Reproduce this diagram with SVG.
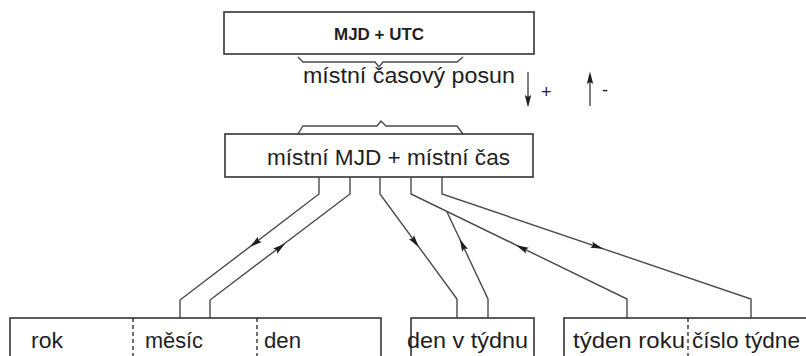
<svg xmlns="http://www.w3.org/2000/svg" xmlns:xlink="http://www.w3.org/1999/xlink" width="806" height="356" viewBox="0 0 806 356">
  <style>
    .box { fill: #ffffff; stroke: #333333; stroke-width: 1.6; }
    .div { stroke: #222222; stroke-width: 1.3; stroke-dasharray: 4 3; fill: none; }
    .wire { fill: none; stroke: #4a4a4a; stroke-width: 1.4; stroke-linejoin: miter; }
    .brace { fill: none; stroke: #4a4a4a; stroke-width: 1.4; }
    .lbl { font-family: "Liberation Sans", Arial, sans-serif; font-size: 22px; fill: #1e1e1e; }
    .bold { font-family: "Liberation Sans", Arial, sans-serif; font-size: 16px; font-weight: bold; fill: #1e1e1e; }
    .sign { font-family: "Liberation Sans", Arial, sans-serif; font-size: 18px; fill: #1e1e1e; }
    .head { fill: #1e1e1e; }
  </style>
  <defs>
    <!-- slender dart, pointing along +x, centred on the origin -->
    <path id="dart" class="head" d="M6.5,0 L-6,-3.2 L-4,0 L-6,3.2 Z"/>
  </defs>

  <!-- top: UTC time -->
  <g id="utc">
    <rect class="box" x="224" y="12" width="310" height="42"/>
    <text class="bold" x="379" y="40" text-anchor="middle" textLength="90" lengthAdjust="spacingAndGlyphs">MJD + UTC</text>
  </g>

  <!-- local time offset with its sign hints -->
  <g id="offset">
    <path class="brace" d="M298,57 L303,62 L375,62 L379,67 L383,62 L457,62 L463,57"/>
    <text class="lbl" x="303" y="83" textLength="212" lengthAdjust="spacingAndGlyphs">místní časový posun</text>
    <line class="wire" x1="528" y1="72" x2="528" y2="100"/>
    <use xlink:href="#dart" transform="translate(528,101) rotate(90)"/>
    <text class="sign" x="541" y="98">+</text>
    <line class="wire" x1="590" y1="106" x2="590" y2="79"/>
    <use xlink:href="#dart" transform="translate(590,78) rotate(-90)"/>
    <text class="sign" x="602" y="96">-</text>
    <path class="brace" d="M298,134 L303,126 L377,126 L381,121 L386,126 L457,126 L463,134"/>
  </g>

  <!-- local date and time -->
  <g id="local">
    <rect class="box" x="225" y="134" width="308" height="43"/>
    <text class="lbl" x="267" y="165" font-size="23" textLength="243" lengthAdjust="spacingAndGlyphs">místní MJD + místní čas</text>
  </g>

  <!-- conversion paths -->
  <g id="connectors">
    <path class="wire" d="M319,177 L319,194 L180,300 L180,318"/>
    <path class="wire" d="M350,177 L350,194 L210,300 L210,318"/>
    <path class="wire" d="M380,177 L380,194 L457,299 L457,318"/>
    <path class="wire" d="M447,212 L488,299 L488,318"/>
    <path class="wire" d="M411,177 L411,194 L627,299 L627,318"/>
    <path class="wire" d="M442,177 L442,194 L751,299 L751,318"/>
    <use xlink:href="#dart" transform="translate(255,243) rotate(142.7)"/>
    <use xlink:href="#dart" transform="translate(280,247.5) rotate(-37.1)"/>
    <use xlink:href="#dart" transform="translate(415,242) rotate(53.7)"/>
    <use xlink:href="#dart" transform="translate(462.5,245) rotate(-115.2)"/>
    <use xlink:href="#dart" transform="translate(522,248) rotate(-154.1)"/>
    <use xlink:href="#dart" transform="translate(597,246.7) rotate(18.8)"/>
  </g>

  <!-- year / month / day -->
  <g id="ymd">
    <rect class="box" x="10" y="318" width="371" height="60"/>
    <line class="div" x1="133" y1="318" x2="133" y2="356"/>
    <line class="div" x1="257" y1="318" x2="257" y2="356"/>
    <text class="lbl" x="31" y="348" textLength="32" lengthAdjust="spacingAndGlyphs">rok</text>
    <text class="lbl" x="145" y="348" textLength="58" lengthAdjust="spacingAndGlyphs">měsíc</text>
    <text class="lbl" x="264" y="348" textLength="37" lengthAdjust="spacingAndGlyphs">den</text>
  </g>

  <!-- day of week -->
  <g id="weekday">
    <rect class="box" x="411" y="318" width="123" height="60"/>
    <text class="lbl" x="407" y="348" textLength="121" lengthAdjust="spacingAndGlyphs">den v týdnu</text>
  </g>

  <!-- week of year / week number -->
  <g id="week">
    <rect class="box" x="564" y="318" width="260" height="60"/>
    <line class="div" x1="688" y1="318" x2="688" y2="356"/>
    <text class="lbl" x="573" y="348" textLength="112" lengthAdjust="spacingAndGlyphs">týden roku</text>
    <text class="lbl" x="692" y="348" textLength="108" lengthAdjust="spacingAndGlyphs">číslo týdne</text>
  </g>
</svg>
